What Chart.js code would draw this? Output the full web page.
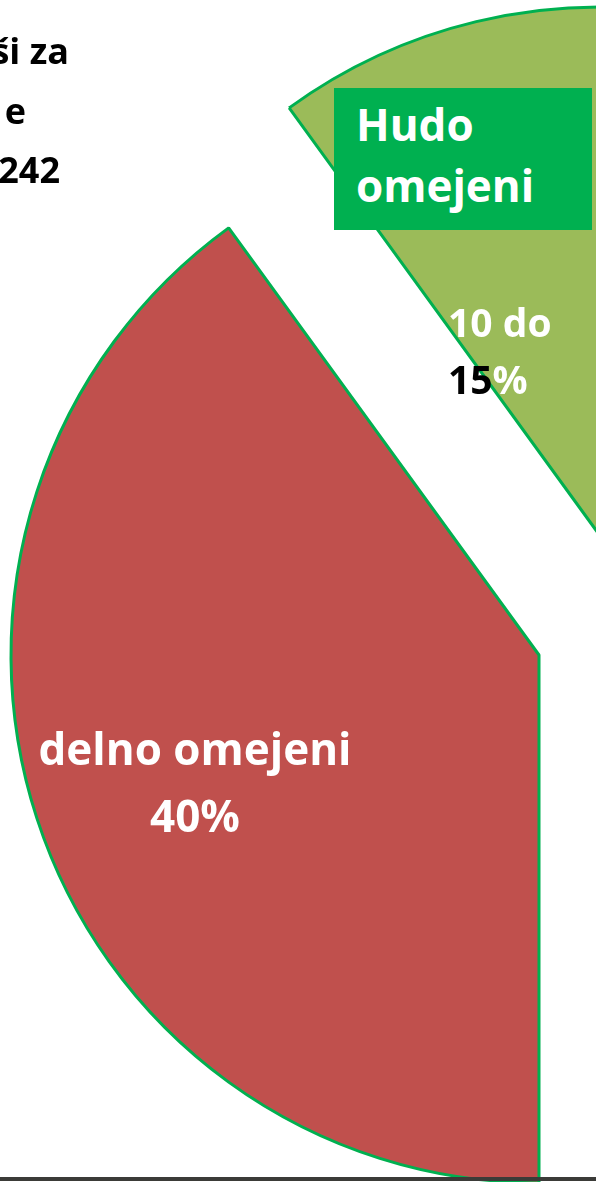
<!DOCTYPE html>
<html>
<head>
<meta charset="utf-8">
<script src="https://cdn.jsdelivr.net/npm/chart.js@4.4.0/dist/chart.umd.min.js"></script>
<style>
  html, body { margin: 0; padding: 0; width: 596px; height: 1182px; overflow: hidden; background: #fff; }
  canvas { position: absolute; left: 0; top: 0; }
  .txt { position: absolute; font-family: 'Open Sans', sans-serif; font-weight: 700; white-space: nowrap; }
  .frag { font-size: 36px; line-height: 46px; color: #000; }
  #hudoBox { left: 334px; top: 88px; width: 258px; height: 142px; background: #00b050; }
  #hudoBox span { position: absolute; left: 22px; font-size: 44px; color: #fff; line-height: 61px; }
  #baseLine { position: absolute; left: 0; top: 1177px; width: 596px; height: 4px; background: #3b3b38; }
</style>
</head>
<body>
<canvas id="redPie" width="1078" height="1310"></canvas>
<canvas id="greenPie" width="1199" height="1070"></canvas>
<div class="txt" id="hudoBox"></div>
<div class="txt" id="greenValue"></div>
<div class="txt" id="redLabel"></div>
<div id="baseLine"></div>
<script>
// deleži (v %) – vidna sta le dva izseka
const categories = ["delno omejeni", "Hudo omejeni"];
const shares = [40, 12.5]; // hudo omejeni: 10 do 15 %
const shareLabels = ["40%", "10 do 15%"];
const titleFragments = ["ši za", "e", "242"];

const colors = ["#c0504d", "#9bbb59"];
const borderGreen = "#00b050";
const PIE_RADIUS = 528;

function makePie(id, label, value, color, rotation) {
  return new Chart(document.getElementById(id), {
    type: "pie",
    data: {
      labels: [label, ""],
      datasets: [{
        data: [value, 100 - value],
        backgroundColor: [color, "rgba(0,0,0,0)"],
        borderColor: [borderGreen, "rgba(0,0,0,0)"],
        borderWidth: [3, 0],
      }],
    },
    options: {
      responsive: false,
      animation: false,
      events: [],
      rotation: rotation,
      radius: PIE_RADIUS,
      layout: { padding: 0 },
      plugins: { legend: { display: false }, tooltip: { enabled: false } },
    },
  });
}

// rdeč izsek se začne spodaj, zelen (izvlečen) nadaljuje za njim
const redStart = 180;
const greenStart = redStart + shares[0] * 3.6;
makePie("redPie", categories[0], shares[0], colors[0], redStart);
makePie("greenPie", categories[1], shares[1], colors[1], greenStart);

// naslov (odrezan na levi)
const titleRights = [69, 26, 60];
const titleTops = [28, 88, 147];
titleFragments.forEach((t, i) => {
  const d = document.createElement("div");
  d.className = "txt frag";
  d.textContent = t;
  d.style.right = (596 - titleRights[i]) + "px";
  d.style.top = titleTops[i] + "px";
  document.body.appendChild(d);
});

// oznaka zelenega izseka
const hudo = document.getElementById("hudoBox");
categories[1].split(" ").forEach((w, i) => {
  const s = document.createElement("span");
  s.textContent = w;
  s.style.top = (6 + i * 61) + "px";
  hudo.appendChild(s);
});
const gv = document.getElementById("greenValue");
const gParts = shareLabels[1].split(" ");
gv.style.cssText = "left:448px; top:293px; font-size:39px; line-height:57px; color:#fff;";
gv.innerHTML = `${gParts[0]} ${gParts[1]}<br><span style="color:#000">${gParts[2].slice(0, 2)}</span>${gParts[2].slice(2)}`;

// oznaka rdečega izseka
const rl = document.getElementById("redLabel");
rl.style.cssText = "left:195px; top:715px; transform:translateX(-50%); font-size:44px; line-height:67px; color:#fff; text-align:center;";
rl.innerHTML = `${categories[0]}<br>${shareLabels[0]}`;
</script>
</body>
</html>
